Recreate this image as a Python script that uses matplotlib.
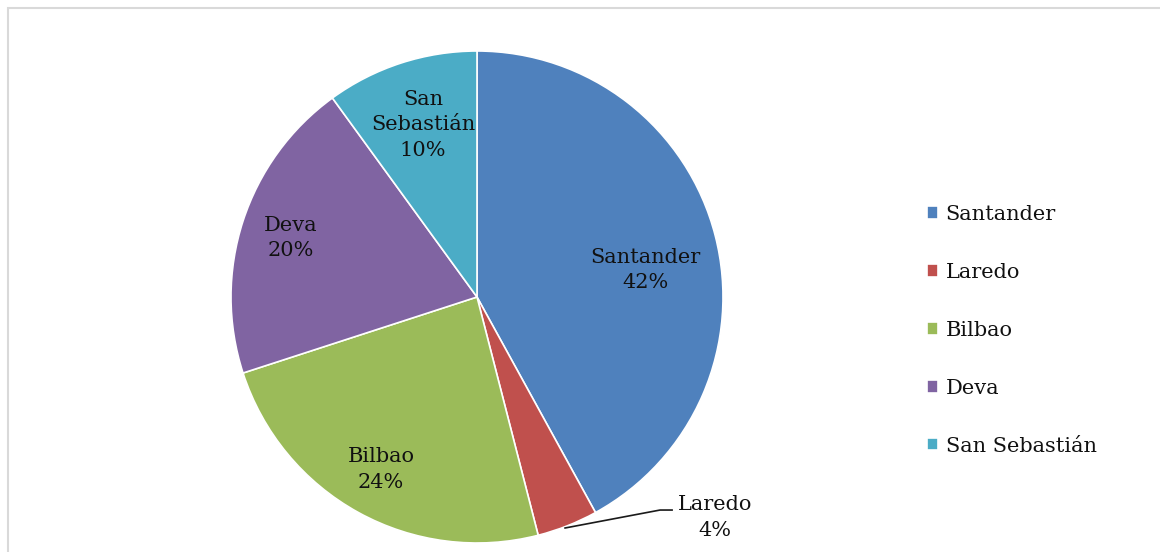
import matplotlib.pyplot as plt
from matplotlib.patches import Rectangle

ciudades = ['Santander', 'Laredo', 'Bilbao', 'Deva', 'San Sebastián']
porcentajes = [42, 4, 24, 20, 10]
colores = ['#4F81BD', '#C0504D', '#9BBB59', '#8064A2', '#4BACC6']
etiquetas = ['Santander', 'Laredo', 'Bilbao', 'Deva', 'San\nSebastián']

plt.rcParams['font.family'] = ['DejaVu Serif']

fig = plt.figure(figsize=(11.6, 5.52), dpi=100)
fig.patches.append(Rectangle((8 / 1160, -0.1), 1.2, 1 - 8 / 552 + 0.1, transform=fig.transFigure,
                             fill=False, edgecolor='#d9d9d9', linewidth=1.5))

ax = fig.add_axes([(477 - 246) / 1160, (552 - 297 - 246) / 552, 492 / 1160, 492 / 552])
wedges, _ = ax.pie(porcentajes, colors=colores, startangle=90, counterclock=False,
                   wedgeprops=dict(edgecolor='white', linewidth=1.2), radius=1)
ax.set_xlim(-1, 1)
ax.set_ylim(-1, 1)
ax.set_aspect('equal')

# label positions (pie units)
pos = [(0.683, 0.11), (0.967, -0.895), (-0.39, -0.70), (-0.756, 0.24), (-0.22, 0.70)]
for lab, pct, (x, y) in zip(etiquetas, porcentajes, pos):
    ax.text(x, y, f'{lab}\n{pct}%', ha='center', va='center', fontsize=15,
            color='#111111', linespacing=1.45, clip_on=False)

ax.plot([0.358, 0.744, 0.793], [-0.939, -0.866, -0.866], color='#1a1a1a', lw=1.2, clip_on=False)

leg = fig.legend(wedges, ciudades, loc='upper left', bbox_to_anchor=(908 / 1160, 1 - 186 / 552),
                 frameon=False, fontsize=15, handlelength=0.55, handleheight=0.55,
                 handletextpad=0.35, labelspacing=1.87, labelcolor='#111111')

fig.savefig('out.png', dpi=100)
